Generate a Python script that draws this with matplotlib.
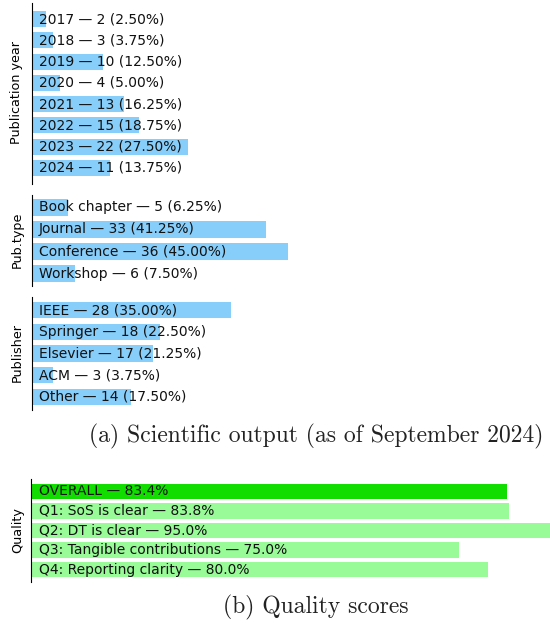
import matplotlib
matplotlib.use('Agg')
import matplotlib.pyplot as plt

years = ['2017', '2018', '2019', '2020', '2021', '2022', '2023', '2024']
year_counts = [2, 3, 10, 4, 13, 15, 22, 11]
pub_types = ['Book chapter', 'Journal', 'Conference', 'Workshop']
type_counts = [5, 33, 36, 6]
publishers = ['IEEE', 'Springer', 'Elsevier', 'ACM', 'Other']
publisher_counts = [28, 18, 17, 3, 14]
total_papers = 80

quality_labels = ['OVERALL', 'Q1: SoS is clear', 'Q2: DT is clear',
                  'Q3: Tangible contributions', 'Q4: Reporting clarity']
quality_scores = [83.4, 83.8, 95.0, 75.0, 80.0]

W, H = 550, 623
fig = plt.figure(figsize=(W / 100, H / 100), dpi=100)


def px_axes(left, top, width, bottom):
    return fig.add_axes([left / W, 1 - bottom / H, width / W, (bottom - top) / H])


def style(ax):
    for s in ['top', 'right', 'bottom']:
        ax.spines[s].set_visible(False)
    ax.set_xticks([])
    ax.set_yticks([])


def count_panel(ax, cats, vals, ylabel, ycenter):
    ax.barh(range(len(cats)), vals, height=0.75, color='lightskyblue')
    ax.set_xlim(0, 40)
    ax.invert_yaxis()
    style(ax)
    for i, (c, v) in enumerate(zip(cats, vals)):
        ax.annotate(f"{c} \u2014 {v} ({v / total_papers * 100:.2f}%)", xy=(0, i),
                    xytext=(5, 0), textcoords='offset points', va='center',
                    ha='left', fontsize=10, color='#111111')
    fig.text(17 / W, 1 - ycenter / H, ylabel, rotation=90, ha='center',
             va='center', fontsize=9.2)


ax1 = px_axes(32, 3, 284, 184)
count_panel(ax1, years, year_counts, 'Publication year', 93)
ax2 = px_axes(32, 195, 284, 286)
count_panel(ax2, pub_types, type_counts, 'Pub.type', 240)
ax3 = px_axes(32, 297, 284, 410)
count_panel(ax3, publishers, publisher_counts, 'Publisher', 353)

fig.text(316 / W, 1 - 436 / H, '(a) Scientific output (as of September 2024)',
         ha='center', va='center', fontsize=17, family='cmr10', color='#222222')

ax4 = px_axes(31, 479, 571, 582)
colors = ['#11dd00'] + ['palegreen'] * (len(quality_scores) - 1)
ax4.barh(range(len(quality_labels)), quality_scores, height=0.8, color=colors)
ax4.set_xlim(0, 100)
ax4.invert_yaxis()
style(ax4)
for i, (lab, s) in enumerate(zip(quality_labels, quality_scores)):
    ax4.annotate(f"{lab} \u2014 {s:.1f}%", xy=(0, i), xytext=(5.5, 0),
                 textcoords='offset points', va='center', ha='left',
                 fontsize=10, color='#111111')
fig.text(17.5 / W, 1 - 530 / H, 'Quality', rotation=90, ha='center',
         va='center', fontsize=9.2)

fig.text(316 / W, 1 - 607 / H, '(b) Quality scores',
         ha='center', va='center', fontsize=17, family='cmr10', color='#222222')

fig.savefig('out.png', dpi=100)
